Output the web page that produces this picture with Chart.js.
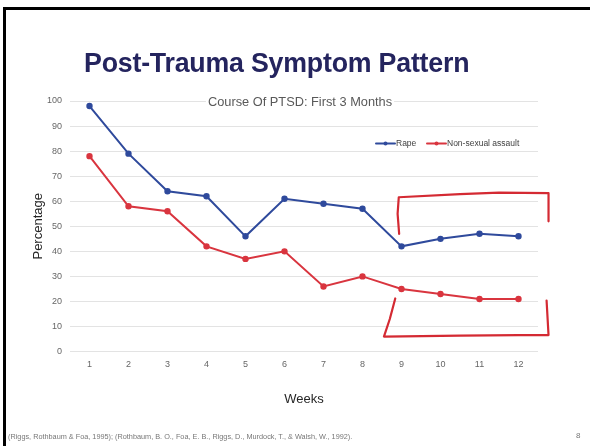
<!DOCTYPE html>
<html>
<head>
<meta charset="utf-8">
<script src="https://cdn.jsdelivr.net/npm/chart.js@4/dist/chart.umd.min.js"></script>
<style>
  html, body { margin: 0; padding: 0; background: #fff; }
  #slide { position: relative; width: 590px; height: 446px; overflow: hidden; background: #fff; }
  #frameTop { position: absolute; left: 3px; top: 7px; width: 590px; height: 3px; background: #000; }
  #frameLeft { position: absolute; left: 3px; top: 7px; width: 3px; height: 446px; background: #000; }
  #heading { position: absolute; left: 84px; top: 48px; font: bold 27px "Liberation Sans", Arial, sans-serif;
    color: #24245e; white-space: nowrap; transform-origin: left top; transform: scaleX(0.99); letter-spacing: -0.2px; }
  #cite { position: absolute; left: 8px; top: 432px; font: 7.3px "Liberation Sans", Arial, sans-serif; color: #777; white-space: nowrap; }
  #pageNo { position: absolute; left: 576px; top: 431px; font: 8px "Liberation Sans", Arial, sans-serif; color: #777; }
  #chartBox { position: absolute; left: 0; top: 0; width: 590px; height: 446px; }
</style>
</head>
<body>
<div id="slide">
  <div id="chartBox"><canvas id="ptsdChart" width="590" height="446"></canvas></div>
  <div id="frameTop"></div>
  <div id="frameLeft"></div>
  <div id="heading">Post-Trauma Symptom Pattern</div>
  <div id="cite">(Riggs, Rothbaum &amp; Foa, 1995); (Rothbaum, B. O., Foa, E. B., Riggs, D., Murdock, T., &amp; Walsh, W., 1992).</div>
  <div id="pageNo">8</div>
</div>
<script>
const weeks = ['1', '2', '3', '4', '5', '6', '7', '8', '9', '10', '11', '12'];
const rape = [98, 79, 64, 62, 46, 61, 59, 57, 42, 45, 47, 46];
const nonSexual = [78, 58, 56, 42, 37, 40, 26, 30, 25, 23, 21, 21];
const yTicks = [0, 10, 20, 30, 40, 50, 60, 70, 80, 90, 100];
// hand drawn brackets, in [week, percent]
const topBracket = [[8.94, 47], [8.90, 55], [8.93, 61.6], [10.5, 62.8], [11.5, 63.4], [12.77, 63.2], [12.77, 52]];
const bottomBracket = [[8.84, 21.2], [8.7, 13], [8.55, 6], [10.5, 6.4], [12.0, 6.6], [12.77, 6.6], [12.72, 20.4]];

const blue = '#2f4a9c';
const red = '#d9353f';

// chart title + legend sit inside the plot area, so draw them by hand
const overlay = {
  id: 'overlay',
  afterDatasetsDraw(chart) {
    const ctx = chart.ctx;
    const x = chart.scales.x, y = chart.scales.y;
    ctx.save();
    // brackets
    ctx.strokeStyle = '#d42a33';
    ctx.lineWidth = 2.2;
    ctx.lineJoin = 'round';
    ctx.lineCap = 'round';
    for (const br of [topBracket, bottomBracket]) {
      ctx.beginPath();
      br.forEach((p, i) => {
        const px = x.getPixelForValue(p[0] - 1), py = y.getPixelForValue(p[1]);
        if (i === 0) ctx.moveTo(px, py); else ctx.lineTo(px, py);
      });
      ctx.stroke();
    }
    // title
    const cx = (chart.chartArea.left + chart.chartArea.right) / 2;
    ctx.font = '12.8px "Liberation Sans", Arial, sans-serif';
    const t = 'Course Of PTSD: First 3 Months';
    const tw = ctx.measureText(t).width;
    ctx.fillStyle = '#fff';
    ctx.fillRect(cx - 4 - tw / 2 - 2, chart.chartArea.top - 3, tw + 4, 6);
    ctx.fillStyle = '#595959';
    ctx.textAlign = 'center';
    ctx.textBaseline = 'middle';
    ctx.fillText(t, cx - 4, chart.chartArea.top + 1);
    // legend
    ctx.font = '8.5px "Liberation Sans", Arial, sans-serif';
    ctx.textAlign = 'left';
    const ly = y.getPixelForValue(83);
    const items = [['Rape', blue, 376], ['Non-sexual assault', red, 427]];
    for (const [label, col, lx] of items) {
      ctx.strokeStyle = col;
      ctx.lineWidth = 2;
      ctx.beginPath(); ctx.moveTo(lx, ly); ctx.lineTo(lx + 19, ly); ctx.stroke();
      ctx.fillStyle = col;
      ctx.beginPath(); ctx.arc(lx + 9.5, ly, 2, 0, Math.PI * 2); ctx.fill();
      ctx.fillStyle = '#404040';
      ctx.fillText(label, lx + 20, ly + 0.5);
    }
    ctx.restore();
  }
};

new Chart(document.getElementById('ptsdChart'), {
  type: 'line',
  data: {
    labels: weeks,
    datasets: [{
      label: 'Rape',
      data: rape,
      borderColor: blue,
      backgroundColor: blue,
      borderWidth: 2,
      pointRadius: 2.2,
      tension: 0
    }, {
      label: 'Non-sexual assault',
      data: nonSexual,
      borderColor: red,
      backgroundColor: red,
      borderWidth: 2,
      pointRadius: 2.2,
      tension: 0
    }]
  },
  options: {
    responsive: false,
    animation: false,
    devicePixelRatio: 1,
    layout: { padding: { left: 29, top: 101, right: 52, bottom: 39 } },
    plugins: {
      legend: { display: false },
      title: { display: false },
      tooltip: { enabled: false }
    },
    scales: {
      x: {
        offset: true,
        grid: { display: false },
        border: { display: false },
        ticks: { color: '#666', font: { size: 9, family: '"Liberation Sans", Arial' }, padding: 0 },
        title: { display: true, text: 'Weeks', color: '#262626', font: { size: 13, family: '"Liberation Sans", Arial' }, padding: { top: 21, bottom: 0 } }
      },
      y: {
        min: 0,
        max: 100,
        afterBuildTicks(axis) { axis.ticks = yTicks.map(v => ({ value: v })); },
        afterFit(axis) { axis.width = 41; },
        grid: { color: '#e3e3e3', lineWidth: 1, drawTicks: false },
        border: { display: false },
        ticks: { color: '#666', font: { size: 9, family: '"Liberation Sans", Arial' }, padding: 8 },
        title: { display: true, text: 'Percentage', color: '#262626', font: { size: 13, family: '"Liberation Sans", Arial' }, padding: { top: 2, bottom: 2 } }
      }
    }
  },
  plugins: [overlay]
});
</script>
</body>
</html>
